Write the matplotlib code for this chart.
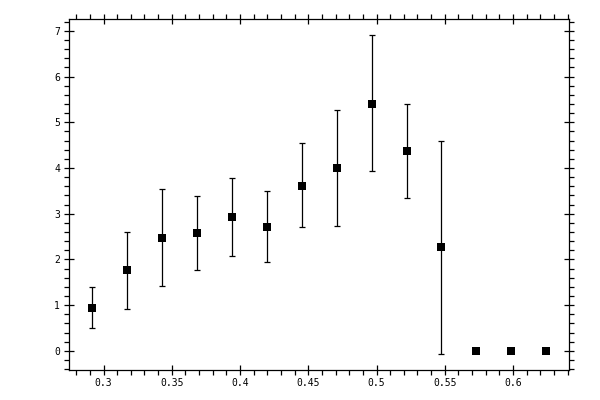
import numpy as np
import matplotlib
matplotlib.use("Agg")
import matplotlib.pyplot as plt
from matplotlib.ticker import MultipleLocator, FormatStrFormatter

# bin centres and measured values with asymmetric errors
x_vals = [0.2918, 0.3174, 0.3430, 0.3686, 0.3941, 0.4197, 0.4453,
          0.4709, 0.4965, 0.5220, 0.5476, 0.5732, 0.5988, 0.6244]
y_vals = [0.94, 1.77, 2.47, 2.58, 2.93, 2.71, 3.61,
          3.99, 5.41, 4.38, 2.28, 0.0, 0.0, 0.0]
y_upper = [1.40, 2.61, 3.53, 3.39, 3.79, 3.50, 4.54,
           5.26, 6.91, 5.41, 4.60, 0.0, 0.0, 0.0]
y_lower = [0.50, 0.92, 1.42, 1.77, 2.08, 1.95, 2.71,
           2.74, 3.94, 3.35, -0.07, 0.0, 0.0, 0.0]

x = np.array(x_vals)
y = np.array(y_vals)
err = [y - np.array(y_lower), np.array(y_upper) - y]

fig = plt.figure(figsize=(6, 4), dpi=100)
ax = fig.add_axes([0.115, 0.075, 0.8333, 0.8775])

ax.errorbar(x, y, yerr=err, fmt='none', ecolor='black',
            elinewidth=0.9, capsize=2.0, capthick=0.9)
ax.plot(x, y, 's', color='black', ms=5.6, mew=0)

ax.set_xlim(0.2747, 0.641)
ax.set_ylim(-0.42, 7.26)

ax.xaxis.set_major_locator(MultipleLocator(0.05))
ax.xaxis.set_minor_locator(MultipleLocator(0.01))
ax.yaxis.set_major_locator(MultipleLocator(1))
ax.yaxis.set_minor_locator(MultipleLocator(0.2))
ax.xaxis.set_major_formatter(FormatStrFormatter('%g'))
ax.yaxis.set_major_formatter(FormatStrFormatter('%g'))

for s in ax.spines.values():
    s.set_linewidth(0.9)

ax.tick_params(which='major', direction='inout', length=7, width=0.9,
               top=True, right=True, labelsize=7)
ax.tick_params(which='minor', direction='out', length=3.5, width=0.9,
               top=True, right=True)
ax.tick_params(axis='x', which='major', pad=2)
ax.tick_params(axis='y', which='major', pad=3)
for lab in ax.get_xticklabels() + ax.get_yticklabels():
    lab.set_family('DejaVu Sans Mono')

plt.savefig('out.png', dpi=100)
